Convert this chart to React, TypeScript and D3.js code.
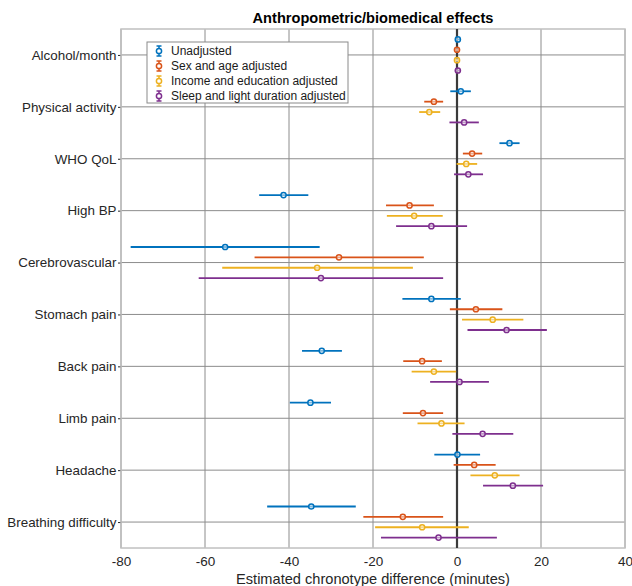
import { useEffect, useRef } from "react";
import * as d3 from "d3";

const categories = [
	"Alcohol/month",
	"Physical activity",
	"WHO QoL",
	"High BP",
	"Cerebrovascular",
	"Stomach pain",
	"Back pain",
	"Limb pain",
	"Headache",
	"Breathing difficulty",
];

const seriesNames = [
	"Unadjusted",
	"Sex and age adjusted",
	"Income and education adjusted",
	"Sleep and light duration adjusted",
];

const seriesColors = ["#0072BD", "#D95319", "#EDB120", "#7E2F8E"];

const unadjEst = [0.2, 0.9, 12.5, -41.3, -55.2, -6.1, -32.2, -34.9, 0.1, -34.7];
const unadjLo = [-0.3, -1.6, 10.1, -47.1, -77.7, -13.0, -36.9, -39.8, -5.4, -45.2];
const unadjHi = [0.7, 3.3, 14.9, -35.4, -32.7, 0.9, -27.4, -30.0, 5.5, -24.1];

const sexAgeEst = [0.0, -5.5, 3.6, -11.3, -28.1, 4.5, -8.3, -8.1, 4.1, -12.9];
const sexAgeLo = [-0.5, -7.8, 1.4, -16.9, -48.2, -1.7, -12.8, -12.9, -0.8, -22.3];
const sexAgeHi = [0.5, -3.3, 6.0, -5.5, -7.9, 10.8, -3.6, -3.3, 9.2, -3.3];

const incEduEst = [0.0, -6.6, 2.2, -10.2, -33.3, 8.5, -5.5, -3.7, 9.0, -8.3];
const incEduLo = [-0.5, -9.0, -0.1, -16.7, -55.9, 1.2, -10.8, -9.4, 3.2, -19.5];
const incEduHi = [0.5, -4.0, 4.8, -3.4, -10.5, 15.8, -0.2, 1.8, 14.9, 2.8];

const sleepEst = [0.2, 1.7, 2.7, -6.1, -32.4, 11.8, 0.6, 6.1, 13.3, -4.4];
const sleepLo = [-0.3, -1.8, -0.7, -14.5, -61.5, 2.5, -6.4, -1.1, 6.2, -18.1];
const sleepHi = [0.7, 5.2, 6.2, 2.4, -3.3, 21.4, 7.6, 13.4, 20.5, 9.5];

const xTicks = [-80, -60, -40, -20, 0, 20, 40];

const seriesData = [
	{ est: unadjEst, lo: unadjLo, hi: unadjHi },
	{ est: sexAgeEst, lo: sexAgeLo, hi: sexAgeHi },
	{ est: incEduEst, lo: incEduLo, hi: incEduHi },
	{ est: sleepEst, lo: sleepLo, hi: sleepHi },
];

const offsets = [-0.3, -0.1, 0.1, 0.3];

const FONT = "Liberation Sans, Arial, sans-serif";

export const ForestPlot = () => {
	const containerRef = useRef<HTMLDivElement>(null);

	useEffect(() => {
		if (!containerRef.current) {
			return;
		}

		const container = containerRef.current;
		const width = 632;
		const height = 586;
		const margin = { top: 29, right: 7, bottom: 38, left: 121 };
		const innerWidth = width - margin.left - margin.right;
		const innerHeight = height - margin.top - margin.bottom;

		const svg = d3
			.select(container)
			.append("svg")
			.attr("width", width)
			.attr("height", height)
			.style("display", "block")
			.style("font-family", FONT);

		svg.append("rect").attr("width", width).attr("height", height).attr("fill", "#fff");

		const content = svg
			.append("g")
			.attr("transform", `translate(${margin.left},${margin.top})`);

		const xScale = d3.scaleLinear().domain([-80, 40]).range([0, innerWidth]);
		const yScale = d3
			.scaleLinear()
			.domain([0.5, categories.length + 0.5])
			.range([0, innerHeight]);

		const catIndex = d3.range(1, categories.length + 1);

		// grid
		content
			.append("g")
			.selectAll("line")
			.data(xTicks)
			.join("line")
			.attr("x1", (d) => xScale(d))
			.attr("x2", (d) => xScale(d))
			.attr("y1", 0)
			.attr("y2", innerHeight)
			.attr("stroke", "#8c8c8c")
			.attr("stroke-width", 1);

		content
			.append("g")
			.selectAll("line")
			.data(catIndex)
			.join("line")
			.attr("x1", 0)
			.attr("x2", innerWidth)
			.attr("y1", (d) => yScale(d))
			.attr("y2", (d) => yScale(d))
			.attr("stroke", "#8c8c8c")
			.attr("stroke-width", 1);

		// axes
		const xAxis = content
			.append("g")
			.attr("transform", `translate(0,${innerHeight})`)
			.call(
				d3
					.axisBottom(xScale)
					.tickValues(xTicks)
					.tickSize(0)
					.tickPadding(8)
					.tickFormat((d) => String(d))
			);
		xAxis.select(".domain").remove();
		xAxis
			.selectAll("text")
			.attr("fill", "#262626")
			.attr("font-size", 13.5)
			.attr("font-family", FONT);

		const yAxis = content
			.append("g")
			.call(
				d3
					.axisLeft(yScale)
					.tickValues(catIndex)
					.tickSize(3)
					.tickPadding(1.5)
					.tickFormat((d) => categories[Number(d) - 1])
			);
		yAxis.select(".domain").remove();
		yAxis.selectAll("line").attr("stroke", "#262626");
		yAxis
			.selectAll("text")
			.attr("fill", "#262626")
			.attr("font-size", 13.4)
			.attr("font-family", FONT);

		// box
		content
			.append("rect")
			.attr("width", innerWidth)
			.attr("height", innerHeight)
			.attr("fill", "none")
			.attr("stroke", "#c0c0c0")
			.attr("stroke-width", 1.5);

		// zero line
		content
			.append("line")
			.attr("x1", xScale(0))
			.attr("x2", xScale(0))
			.attr("y1", 0)
			.attr("y2", innerHeight)
			.attr("stroke", "#3a3a3a")
			.attr("stroke-width", 2.2);

		seriesData.forEach((series, si) => {
			const color = seriesColors[si];
			const rows = catIndex.map((c, i) => ({
				y: c + offsets[si],
				est: series.est[i],
				lo: series.lo[i],
				hi: series.hi[i],
			}));
			const g = content.append("g");
			g.selectAll("line")
				.data(rows)
				.join("line")
				.attr("x1", (d) => xScale(d.lo))
				.attr("x2", (d) => xScale(d.hi))
				.attr("y1", (d) => yScale(d.y))
				.attr("y2", (d) => yScale(d.y))
				.attr("stroke", color)
				.attr("stroke-width", 1.8);
			g.selectAll("circle")
				.data(rows)
				.join("circle")
				.attr("cx", (d) => xScale(d.est))
				.attr("cy", (d) => yScale(d.y))
				.attr("r", 2.6)
				.attr("fill", "#fff")
				.attr("fill-opacity", 0.5)
				.attr("stroke", color)
				.attr("stroke-width", 1.5);
		});

		// legend
		const legend = svg.append("g").attr("transform", "translate(147,42)");
		legend
			.append("rect")
			.attr("width", 201)
			.attr("height", 61)
			.attr("fill", "#fff")
			.attr("stroke", "#8a8a8a")
			.attr("stroke-width", 1);

		seriesNames.forEach((name, i) => {
			const color = seriesColors[i];
			const item = legend.append("g").attr("transform", `translate(12,${9 + i * 15})`);
			item.append("line")
				.attr("x1", 0)
				.attr("x2", 0)
				.attr("y1", -5)
				.attr("y2", 5)
				.attr("stroke", color)
				.attr("stroke-width", 1.5);
			[-5, 5].forEach((cy) => {
				item.append("line")
					.attr("x1", -2.5)
					.attr("x2", 2.5)
					.attr("y1", cy)
					.attr("y2", cy)
					.attr("stroke", color)
					.attr("stroke-width", 1.5);
			});
			item.append("circle")
				.attr("r", 2.6)
				.attr("fill", "#fff")
				.attr("stroke", color)
				.attr("stroke-width", 1.5);
			item.append("text")
				.attr("x", 12)
				.attr("y", 0)
				.attr("dominant-baseline", "central")
				.attr("font-size", 12)
				.attr("fill", "#1a1a1a")
				.text(name);
		});

		// title
		svg.append("text")
			.attr("x", margin.left + innerWidth / 2)
			.attr("y", 23)
			.attr("text-anchor", "middle")
			.attr("font-size", 14.6)
			.attr("font-weight", 700)
			.attr("fill", "#000")
			.text("Anthropometric/biomedical effects");

		svg.append("text")
			.attr("x", margin.left + innerWidth / 2)
			.attr("y", 584)
			.attr("text-anchor", "middle")
			.attr("font-size", 14.6)
			.attr("fill", "#262626")
			.text("Estimated chronotype difference (minutes)");

		return () => {
			svg.remove();
		};
	}, []);

	return <div ref={containerRef} style={{ position: "absolute", left: 0, top: 0 }} />;
};

export default function App() {
	return <ForestPlot />;
}
